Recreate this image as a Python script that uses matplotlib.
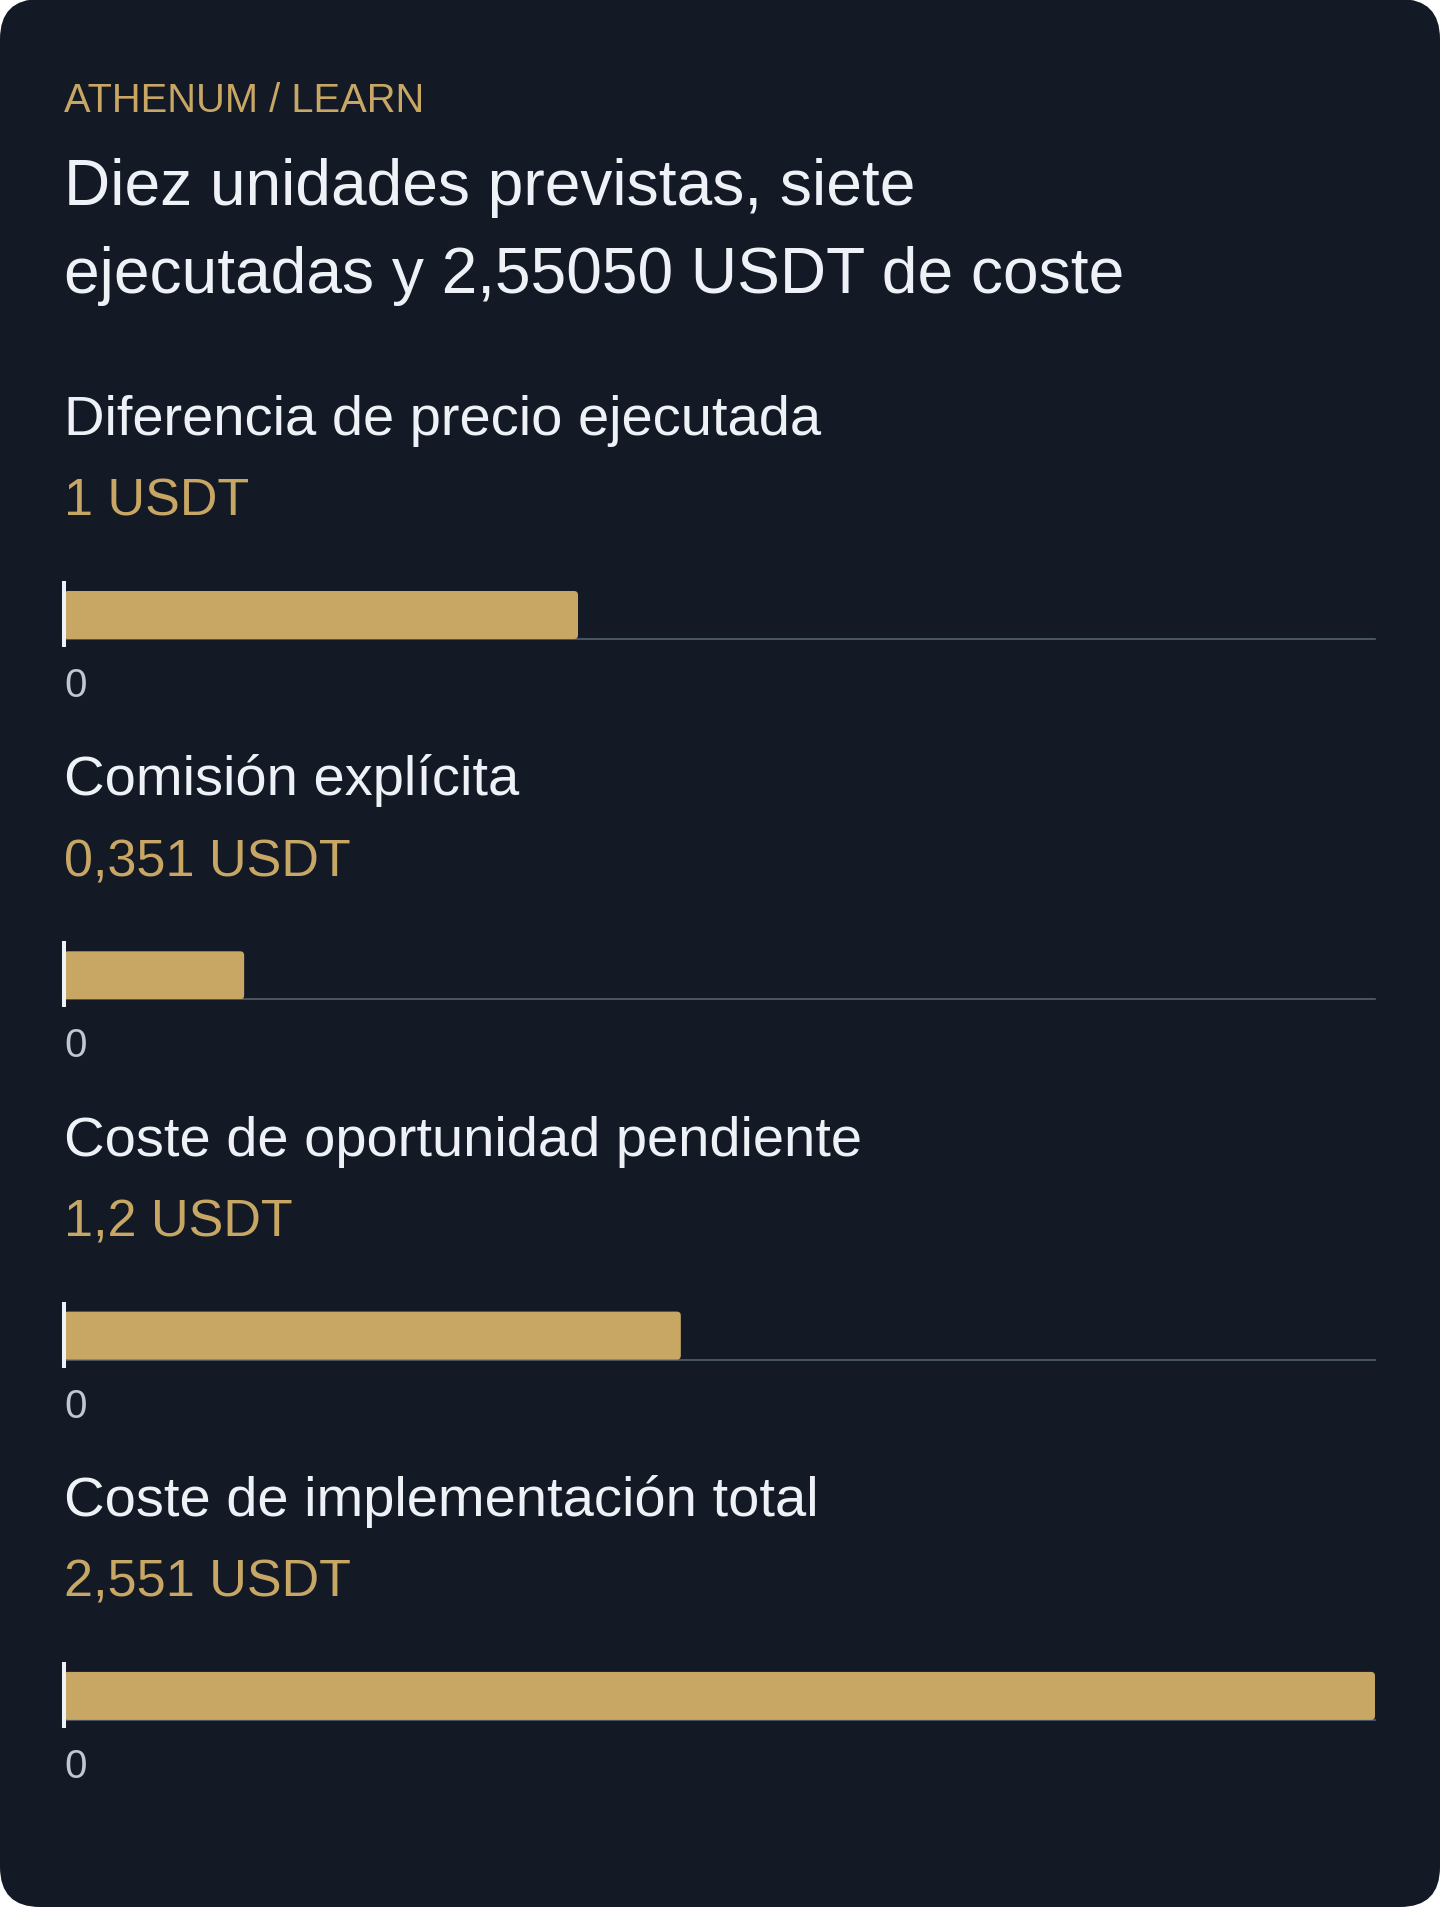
import matplotlib
matplotlib.use("Agg")
import matplotlib.pyplot as plt
from matplotlib.patches import FancyBboxPatch

plt.rcParams['font.family'] = ['Liberation Sans', 'DejaVu Sans']

# data
kicker = "ATHENUM / LEARN"
title_lines = ["Diez unidades previstas, siete",
               "ejecutadas y 2,55050 USDT de coste"]
labels = ["Diferencia de precio ejecutada", "Comisión explícita",
          "Coste de oportunidad pendiente", "Coste de implementación total"]
values = [1.0, 0.3505, 1.2, 2.5505]
value_texts = ["1 USDT", "0,351 USDT", "1,2 USDT", "2,551 USDT"]

# colours
bg = '#131a26'
gold = '#c8a765'
white = '#eef1f6'
grey = '#c0c7d1'
axis_grey = '#55606e'

W, H = 1440, 1908
fig = plt.figure(figsize=(W / 100, H / 100), dpi=100)
fig.patch.set_facecolor('white')

# card in pixel coords
base = fig.add_axes([0, 0, 1, 1])
base.set_xlim(0, W)
base.set_ylim(H, 0)
base.axis('off')
base.add_patch(FancyBboxPatch((0, 0), W, H, boxstyle='round,pad=0,rounding_size=40',
                              facecolor=bg, edgecolor='none'))

x0 = 64
base.text(x0, 112, kicker, color=gold, fontsize=28.7, va='baseline')
base.text(x0, 205, title_lines[0], color=white, fontsize=46.1, va='baseline')
base.text(x0, 293, title_lines[1], color=white, fontsize=46.1, va='baseline')

step = 360.3
x_right = 1375
vmax = max(values)
px_x = vmax / (x_right - x0)  # data units per pixel along x
for i, (lab, val, vt) in enumerate(zip(labels, values, value_texts)):
    off = i * step
    base.text(x0, 435 + off, lab, color=white, fontsize=40.4, va='baseline')
    base.text(x0, 516 + off, vt, color=gold, fontsize=37.5, va='baseline')

    top, bottom = 584 + off, 640 + off
    ax = fig.add_axes([x0 / W, 1 - bottom / H, (x_right - x0) / W, (bottom - top) / H])
    ax.patch.set_alpha(0)
    bars = ax.barh(0, val, height=48, align='edge', color=gold, zorder=1)
    # round the bar ends a little
    for b in bars:
        b.set_visible(False)
        ax.add_patch(FancyBboxPatch((b.get_x(), b.get_y()), b.get_width(), b.get_height(),
                                    boxstyle=f'round,pad=0,rounding_size={4 * px_x}',
                                    mutation_aspect=1 / px_x,
                                    facecolor=gold, edgecolor='none', zorder=1))
    ax.set_xlim(0, vmax)
    ax.set_ylim(0, 56)
    for s in ['top', 'right']:
        ax.spines[s].set_visible(False)
    ax.spines['left'].set_color(white)
    ax.spines['left'].set_linewidth(2.9)
    ax.spines['left'].set_zorder(3)
    ax.spines['bottom'].set_color(axis_grey)
    ax.spines['bottom'].set_linewidth(1.2)
    ax.spines['bottom'].set_zorder(0.5)
    ax.set_yticks([])
    ax.set_xticks([0])
    ax.set_xticklabels(['0'])
    ax.tick_params(axis='x', direction='out', length=5.8, width=2.9, color=white,
                   labelcolor=grey, labelsize=29, pad=13.7)
    for t in ax.get_xticklabels():
        t.set_horizontalalignment('left')

fig.savefig('out.png', dpi=100, facecolor=fig.get_facecolor())
